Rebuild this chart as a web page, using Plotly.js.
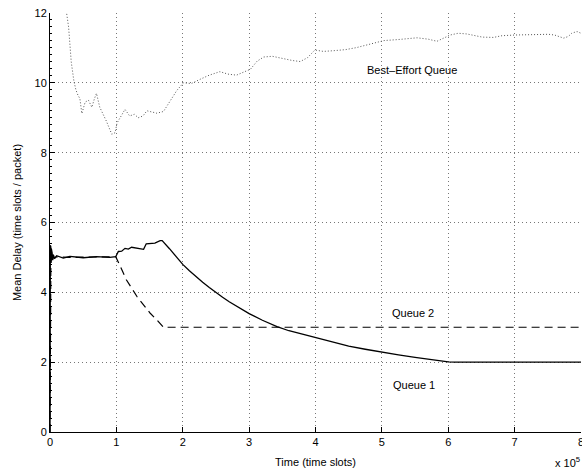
<!DOCTYPE html>
<html>
<head>
<meta charset="utf-8">
<script src="https://cdn.plot.ly/plotly-3.0.1.min.js"></script>
<style>
html,body{margin:0;padding:0;background:#fff;}
#chart{width:582px;height:472px;}
</style>
</head>
<body>
<div id="chart"></div>
<script>
// Time in units of 1e5 time slots
const beX = [0.15, 0.25, 0.28, 0.30, 0.32, 0.36, 0.39, 0.42, 0.45, 0.48, 0.53, 0.58, 0.63, 0.67, 0.70, 0.75, 0.85, 0.93, 0.98, 1.01, 1.06, 1.13, 1.20, 1.27, 1.33, 1.40, 1.46, 1.53, 1.61, 1.71, 1.81, 1.91, 2.01, 2.13, 2.26, 2.40, 2.56, 2.68, 2.81, 3.02, 3.12, 3.22, 3.35, 3.52, 3.65, 3.77, 3.88, 3.99, 4.12, 4.27, 4.45, 4.62, 4.82, 5.03, 5.25, 5.53, 5.70, 5.83, 6.03, 6.15, 6.28, 6.51, 6.68, 6.81, 7.01, 7.26, 7.51, 7.60, 7.74, 7.81, 7.86, 7.94, 8.00];
const beY = [12.9, 12.0, 11.6, 11.1, 10.6, 10.05, 9.8, 9.65, 9.55, 9.12, 9.45, 9.5, 9.3, 9.55, 9.7, 9.3, 8.9, 8.53, 8.57, 8.85, 9.0, 9.24, 9.05, 9.1, 9.0, 9.05, 9.2, 9.16, 9.13, 9.18, 9.5, 9.78, 10.0, 9.98, 10.1, 10.22, 10.32, 10.25, 10.22, 10.39, 10.62, 10.74, 10.76, 10.68, 10.64, 10.61, 10.72, 10.94, 10.9, 10.92, 10.95, 11.01, 11.1, 11.21, 11.24, 11.29, 11.25, 11.19, 11.37, 11.42, 11.40, 11.31, 11.3, 11.35, 11.37, 11.39, 11.39, 11.37, 11.28, 11.33, 11.42, 11.47, 11.42];

const q1X = [0, 0.002, 0.005, 0.008, 0.012, 0.016, 0.02, 0.025, 0.03, 0.04, 0.05, 0.07, 0.1, 0.2, 0.3, 0.5, 0.7, 0.9, 0.99, 1.03, 1.08, 1.13, 1.18, 1.23, 1.30, 1.41, 1.45, 1.52, 1.58, 1.66, 1.69, 1.8, 1.9, 2.0, 2.1, 2.2, 2.3, 2.4, 2.5, 2.6, 2.7, 2.8, 2.9, 3.0, 3.2, 3.42, 3.6, 3.8, 4.0, 4.25, 4.5, 4.75, 5.0, 5.25, 5.5, 5.75, 6.0, 6.1, 7.0, 8.0];
const q1Y = [0, 3.0, 5.35, 4.8, 5.3, 4.85, 5.25, 4.9, 5.15, 4.92, 5.08, 4.97, 5.05, 4.98, 5.03, 4.99, 5.02, 5.0, 5.02, 5.17, 5.18, 5.26, 5.24, 5.29, 5.27, 5.23, 5.39, 5.40, 5.41, 5.48, 5.48, 5.25, 5.02, 4.8, 4.62, 4.45, 4.29, 4.14, 3.99, 3.86, 3.73, 3.61, 3.50, 3.39, 3.20, 3.02, 2.90, 2.80, 2.70, 2.57, 2.46, 2.37, 2.28, 2.21, 2.14, 2.07, 2.01, 2.0, 2.0, 2.0];

const q2X = [0, 0.003, 0.006, 0.01, 0.014, 0.018, 0.022, 0.03, 0.04, 0.06, 0.1, 0.3, 0.6, 0.99, 1.06, 1.15, 1.31, 1.51, 1.61, 1.71, 8.0];
const q2Y = [0, 4.2, 5.2, 4.75, 5.25, 4.9, 5.2, 4.95, 5.1, 4.97, 5.02, 5.0, 5.01, 5.02, 4.74, 4.36, 3.88, 3.4, 3.21, 3.0, 3.0];

const labels = ["Best\u2013Effort Queue", "Queue 2", "Queue 1"];
const labelX = [5.45, 5.47, 5.48];
const labelY = [10.37, 3.42, 1.35];

const FONT = "Liberation Sans, Arial, Helvetica, sans-serif";

const traces = [
  {x: beX, y: beY, mode: "lines", line: {color: "#555", width: 1, dash: "1px,2px"}, hoverinfo: "skip"},
  {x: q2X, y: q2Y, mode: "lines", line: {color: "#000", width: 1.2, dash: "8px,5px"}, hoverinfo: "skip"},
  {x: q1X, y: q1Y, mode: "lines", line: {color: "#000", width: 1.3}, hoverinfo: "skip"}
];

const annotations = labels.map((t, i) => ({
  x: labelX[i], y: labelY[i], xref: "x", yref: "y", text: t, showarrow: false,
  font: {family: FONT, size: 11, color: "#000"}, xanchor: "center", yanchor: "middle"
}));
annotations.push({
  xref: "paper", yref: "paper", x: 1.002, y: -0.072, xanchor: "right", yanchor: "middle",
  text: "x 10<sup>5</sup>", showarrow: false, font: {family: FONT, size: 11, color: "#000"}
});

const layout = {
  width: 582, height: 472,
  margin: {l: 50, r: 1, t: 13, b: 40},
  paper_bgcolor: "#fff", plot_bgcolor: "#fff",
  showlegend: false,
  font: {family: FONT, size: 11, color: "#000"},
  xaxis: {
    range: [0, 8], dtick: 1, tick0: 0,
    ticks: "inside", ticklen: 5, tickcolor: "#000", tickwidth: 1,
    showline: true, linecolor: "#000", linewidth: 1, mirror: false,
    showgrid: true, gridcolor: "#777", gridwidth: 1, griddash: "1px,3px",
    zeroline: false, ticklabeloverflow: "allow",
    tickfont: {family: FONT, size: 11, color: "#000"},
    title: {text: "Time (time slots)", font: {family: FONT, size: 11, color: "#000"}, standoff: 11}
  },
  yaxis: {
    range: [0, 12], dtick: 2, tick0: 0,
    ticks: "inside", ticklen: 5, tickcolor: "#000", tickwidth: 1,
    showline: true, linecolor: "#000", linewidth: 1, mirror: false,
    showgrid: true, gridcolor: "#777", gridwidth: 1, griddash: "1px,3px",
    zeroline: false, ticklabeloverflow: "allow",
    minor: {dtick: 0.2, ticks: "inside", ticklen: 2, tickcolor: "#000", showgrid: false},
    tickfont: {family: FONT, size: 11, color: "#000"},
    title: {text: "Mean Delay (time slots / packet)", font: {family: FONT, size: 11, color: "#000"}, standoff: 10}
  },
  annotations: annotations
};

Plotly.newPlot("chart", traces, layout, {staticPlot: true, displayModeBar: false});
</script>
</body>
</html>
